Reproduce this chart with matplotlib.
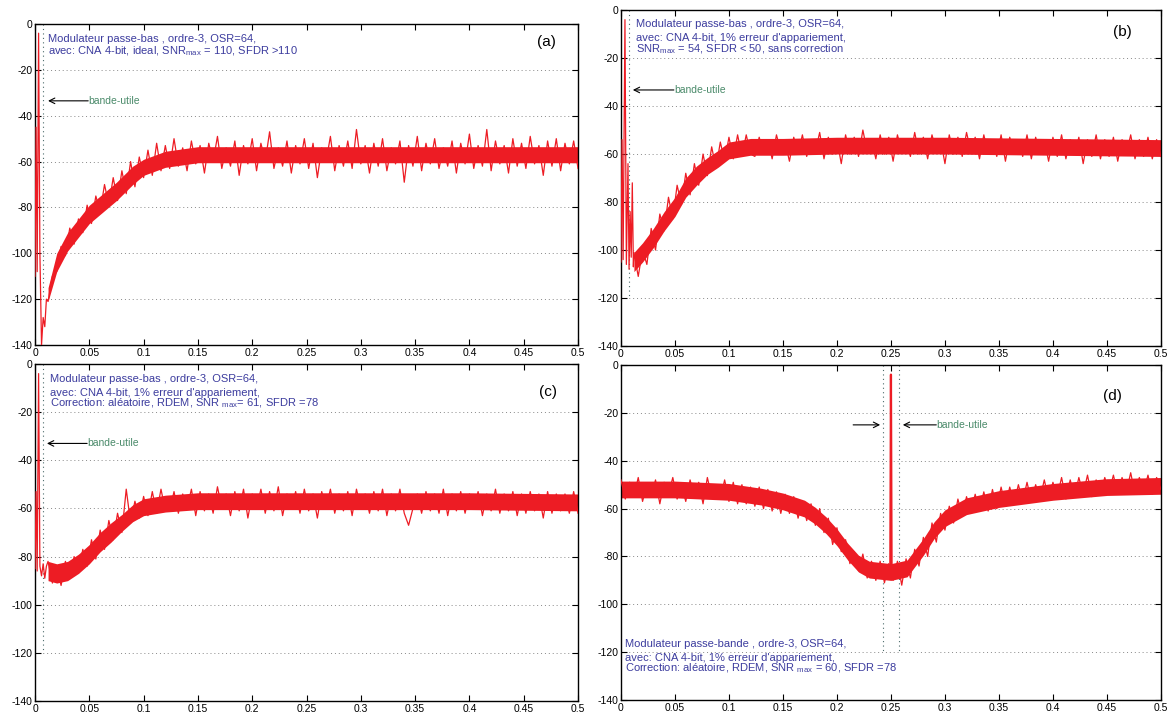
import numpy as np
import matplotlib
matplotlib.use('Agg')
import matplotlib.pyplot as plt

plt.rcParams['font.family'] = ['Liberation Sans', 'DejaVu Sans']
plt.rcParams['mathtext.fontset'] = 'custom'
plt.rcParams['mathtext.rm'] = 'Liberation Sans'
plt.rcParams['mathtext.default'] = 'regular'

RED = '#ed1c24'
BLUE = '#3c3c9e'
GREEN = '#4a8a6a'

# normalised frequency grids (FFT bins, read every 0.004)
F_BODY = np.round(0.012 + 0.004 * np.arange(123), 3)   # panels a, b, c
F_D = np.round(0.004 * np.arange(126), 3)               # panel d

# --- (a) ideal DAC ---
f_head_a = [0, 0.001, 0.002, 0.0033, 0.0045, 0.006, 0.0075, 0.009, 0.0105]
p_head_a = [-110, -45, -108, -4, -100, -140, -128, -132, -120]
p_a = [-121, -110, -108, -97, -101, -89, -96, -85, -91, -79, -87, -75, -82, -70, -79, -67,
       -77, -64, -74, -60, -71, -58, -67, -55, -66, -52, -64, -53,
       -63, -50, -62, -54, -64, -51, -61, -53, -65, -52, -60, -49, -63, -54, -62, -51,
       -66, -53, -61, -50, -64, -52, -60, -47, -63, -54, -62, -51, -65, -53, -61, -50,
       -63, -52, -67, -54, -60, -49, -64, -53, -62, -51, -63, -46, -61, -53, -65, -52,
       -62, -50, -64, -54, -61, -51, -69, -53, -62, -49, -64, -52, -61, -50, -63, -54,
       -62, -51, -65, -52, -61, -48, -63, -53, -62, -46, -64, -51, -61, -53, -65, -50,
       -62, -52, -63, -49, -61, -53, -66, -51, -62, -50, -64, -52, -61, -51, -63]
# dense core of the noise (lower / upper edge)
f_band_a = [0.012, 0.02, 0.03, 0.04, 0.05, 0.06, 0.075, 0.09, 0.1, 0.12, 0.15, 0.2, 0.3, 0.4, 0.5]
lo_a = [-121, -108, -99, -93, -87, -83, -77, -70, -66, -62.5, -60.5, -60.5, -60.5, -60.5, -60.5]
hi_a = [-115, -100, -91, -85, -79, -75, -69, -62, -59, -55.5, -53.5, -53.5, -53.5, -53.5, -53.5]

# --- (b) 1% mismatch, no correction ---
f_head_b = [0, 0.001, 0.002, 0.0037, 0.005, 0.0065, 0.0075, 0.0085, 0.0095, 0.0105, 0.0115]
p_head_b = [-105, -54, -104, -4, -106, -64, -108, -84, -103, -72, -107]
p_b = [-101, -111, -100, -106, -91, -100, -85, -92, -78, -87, -73, -81, -68, -77, -64, -73,
       -60, -69, -57, -66, -55, -63, -53, -62, -52, -61, -52, -60,
       -61, -53, -60, -54, -62, -52, -59, -55, -63, -53, -60, -52, -61, -54, -59, -51,
       -62, -53, -60, -54, -64, -52, -60, -53, -61, -50, -59, -54, -62, -52, -60, -53,
       -63, -52, -59, -54, -61, -51, -60, -53, -62, -52, -59, -54, -64, -52, -60, -53,
       -61, -51, -59, -53, -62, -52, -60, -54, -61, -52, -63, -53, -60, -54, -61, -52,
       -62, -53, -60, -54, -63, -53, -61, -52, -62, -54, -60, -53, -64, -54, -61, -52,
       -62, -54, -61, -53, -63, -54, -60, -52, -62, -54, -61, -53, -62, -54, -61]
f_band_b = [0.012, 0.02, 0.03, 0.04, 0.05, 0.06, 0.07, 0.08, 0.09, 0.1, 0.12, 0.15, 0.2, 0.3, 0.4, 0.5]
lo_b = [-109, -105, -99, -92, -86, -78, -73, -68.5, -65.5, -62, -60.5, -60.5, -60, -60, -60.5, -61]
hi_b = [-101, -97, -91, -84, -78, -70, -65, -61.5, -58.5, -55, -53.5, -53.5, -53, -53, -53.5, -54]

# --- (c) 1% mismatch, RDEM correction ---
f_head_c = [0, 0.001, 0.002, 0.0033, 0.0045, 0.006, 0.0075, 0.009, 0.0105]
p_head_c = [-85, -53, -86, -4, -84, -88, -83, -89, -84]
p_c = [-82, -91, -84, -92, -82, -89, -80, -87, -77, -84, -73, -81, -69, -77, -65, -73,
       -62, -70, -52, -66, -57, -64, -55, -63, -53, -62, -52, -61,
       -61, -53, -62, -54, -60, -52, -63, -53, -61, -54, -62, -51, -60, -54, -63, -53,
       -61, -52, -64, -54, -60, -52, -62, -53, -61, -51, -63, -54, -60, -53, -62, -52,
       -61, -54, -64, -53, -60, -52, -62, -54, -61, -53, -63, -52, -60, -54, -62, -53,
       -61, -52, -63, -54, -61, -52, -62, -67, -60, -54, -62, -53, -61, -54, -62, -52,
       -63, -54, -61, -53, -62, -54, -60, -53, -63, -54, -61, -52, -62, -54, -61, -53,
       -63, -54, -62, -53, -61, -54, -64, -53, -62, -54, -61, -54, -62, -53, -62]
f_band_c = [0.012, 0.02, 0.03, 0.04, 0.05, 0.06, 0.07, 0.08, 0.09, 0.1, 0.12, 0.15, 0.2, 0.3, 0.4, 0.5]
lo_c = [-90, -91, -90, -87, -83, -78, -74, -69.5, -65.5, -63, -61.5, -60.5, -60.5, -60.5, -60.5, -61]
hi_c = [-82, -83, -82, -79, -75, -70, -66, -62.5, -58.5, -56, -54.5, -53.5, -53.5, -53.5, -53.5, -54]

# --- (d) band-pass modulator ---
f_tone_d = [0.2494, 0.25, 0.2506]
p_tone_d = [-86, -4, -86]
p_d = [-48, -56, -49, -55, -47, -57, -50, -55, -48, -58, -49, -54, -47, -56, -50, -57,
       -48, -55, -49, -58, -47, -55, -50, -56, -48, -57,
       -49, -58, -50, -58, -51, -59, -51, -60, -52, -61, -53, -62,
       -54, -62, -55, -64, -57, -65, -58, -67, -60, -70, -64, -75,
       -68, -78, -73, -83, -78, -86, -79, -89, -82, -90,
       -82, -91, -83, -90, -82, -92, -81, -89,
       -77, -84, -72, -80, -66, -74, -62, -69, -59, -66,
       -56, -63, -55, -62, -54, -61, -53, -61, -52, -60, -51, -59,
       -51, -58, -50, -57, -49, -57, -50, -56, -48, -56, -49, -55, -47, -56, -48, -55,
       -47, -54, -46, -55, -48, -54, -47, -53, -46, -54, -47, -53, -45, -54, -47, -53,
       -46, -54, -47, -52]
f_band_d = [0, 0.05, 0.1, 0.13, 0.15, 0.17, 0.18, 0.19, 0.2, 0.21, 0.22, 0.23, 0.25,
            0.265, 0.27, 0.28, 0.29, 0.3, 0.32, 0.35, 0.4, 0.45, 0.5]
lo_d = [-55.5, -55.5, -56.5, -58.5, -60.5, -63.5, -66.5, -70.5, -75.5, -81.5, -86.5, -89, -90,
        -88.5, -85.5, -79.5, -72.5, -67.5, -62.5, -59.5, -56.5, -54.5, -54]
hi_d = [-48.5, -48.5, -49.5, -51.5, -53.5, -56.5, -59.5, -63.5, -68.5, -74.5, -79.5, -82, -83,
        -81.5, -78.5, -72.5, -65.5, -60.5, -55.5, -52.5, -49.5, -47.5, -47]

X_TICKS = [0, 0.05, 0.1, 0.15, 0.2, 0.25, 0.3, 0.35, 0.4, 0.45, 0.5]
Y_TICKS = [0, -20, -40, -60, -80, -100, -120, -140]


def style(ax):
    ax.set_xlim(0, 0.5)
    ax.set_ylim(-140, 0)
    ax.set_xticks(X_TICKS)
    ax.set_xticklabels(['%g' % t for t in X_TICKS])
    ax.set_yticks(Y_TICKS)
    ax.set_yticklabels(['%g' % t for t in Y_TICKS])
    ax.tick_params(direction='in', length=4, width=0.8, labelsize=7.5, pad=2,
                   top=True, right=True)
    for s in ax.spines.values():
        s.set_linewidth(1.0)
    for y in Y_TICKS[1:-1]:
        ax.axhline(y, color='#888888', lw=0.7, ls=(0, (1, 3)), zorder=0)


def spectrum(ax, f, p, fb, lo, hi):
    ax.fill_between(fb, lo, hi, color=RED, lw=0, zorder=2)
    ax.plot(f, p, color=RED, lw=0.9, zorder=3)


def edge(ax, x):
    ax.plot([x, x], [0, -120], color='#4a6a6a', lw=0.8, ls=(0, (1, 3)), zorder=1)


def arrow(ax, x0, x1, y):
    ax.annotate('', xy=(x1, y), xytext=(x0, y),
                arrowprops=dict(arrowstyle='->', color='k', lw=0.8, shrinkA=0, shrinkB=0))


def block(ax, x, ys, lines):
    for y, t in zip(ys, lines):
        ax.text(x, y, t, color=BLUE, fontsize=8, va='baseline', ha='left')


fig = plt.figure(figsize=(11.67, 7.13), dpi=100)

axa = fig.add_axes([0.0300, 0.5161, 0.4653, 0.4502])
axb = fig.add_axes([0.5321, 0.5147, 0.4627, 0.4712])
axc = fig.add_axes([0.0300, 0.0168, 0.4653, 0.4727])
axd = fig.add_axes([0.5321, 0.0182, 0.4627, 0.4698])

for ax in (axa, axb, axc, axd):
    style(ax)

# (a)
spectrum(axa, list(f_head_a) + list(F_BODY), p_head_a + p_a, f_band_a, lo_a, hi_a)
edge(axa, 1 / 128)
arrow(axa, 0.049, 0.012, -33.5)
axa.text(0.049, -33.5, 'bande-utile', color=GREEN, fontsize=7.5, va='center')
block(axa, 0.012, [-8.0, -13.2],
      ['Modulateur passe-bas , ordre-3, OSR=64,',
       r'avec: CNA 4-bit, ideal, SNR$_{max}$ = 110, SFDR >110'])
axa.text(0.471, -8, '(a)', fontsize=11, ha='center', va='center')

# (b)
spectrum(axb, list(f_head_b) + list(F_BODY), p_head_b + p_b, f_band_b, lo_b, hi_b)
edge(axb, 1 / 128)
arrow(axb, 0.049, 0.011, -33.3)
axb.text(0.049, -33.3, 'bande-utile', color=GREEN, fontsize=7.5, va='center')
block(axb, 0.014, [-7.1, -12.9, -17.5],
      ['Modulateur passe-bas , ordre-3, OSR=64,',
       "avec: CNA 4-bit, 1% erreur d'appariement,",
       r'SNR$_{max}$ = 54, SFDR < 50, sans correction'])
axb.text(0.464, -9, '(b)', fontsize=11, ha='center', va='center')

# (c)
spectrum(axc, list(f_head_c) + list(F_BODY), p_head_c + p_c, f_band_c, lo_c, hi_c)
edge(axc, 1 / 128)
arrow(axc, 0.048, 0.011, -33)
axc.text(0.048, -33, 'bande-utile', color=GREEN, fontsize=7.5, va='center')
block(axc, 0.014, [-7.4, -13.2, -17.7],
      ['Modulateur passe-bas , ordre-3, OSR=64,',
       "avec: CNA 4-bit, 1% erreur d'appariement,",
       r'Correction: aléatoire, RDEM, SNR $_{max}$= 61, SFDR =78'])
axc.text(0.472, -11.5, '(c)', fontsize=11, ha='center', va='center')

# (d)
spectrum(axd, F_D, p_d, f_band_d, lo_d, hi_d)
axd.plot(f_tone_d, p_tone_d, color=RED, lw=1.6, zorder=3)
edge(axd, 0.25 - 1 / 128)
edge(axd, 0.25 + 1 / 128)
arrow(axd, 0.215, 0.240, -25)
arrow(axd, 0.292, 0.261, -25)
axd.text(0.292, -25, 'bande-utile', color=GREEN, fontsize=7.5, va='center')
block(axd, 0.004, [-117.7, -123.6, -128.1],
      ['Modulateur passe-bande , ordre-3, OSR=64,',
       "avec: CNA 4-bit, 1% erreur d'appariement,",
       r'Correction: aléatoire, RDEM, SNR $_{max}$ = 60, SFDR =78'])
axd.text(0.455, -13, '(d)', fontsize=11, ha='center', va='center')

fig.savefig('out.png', dpi=100)
